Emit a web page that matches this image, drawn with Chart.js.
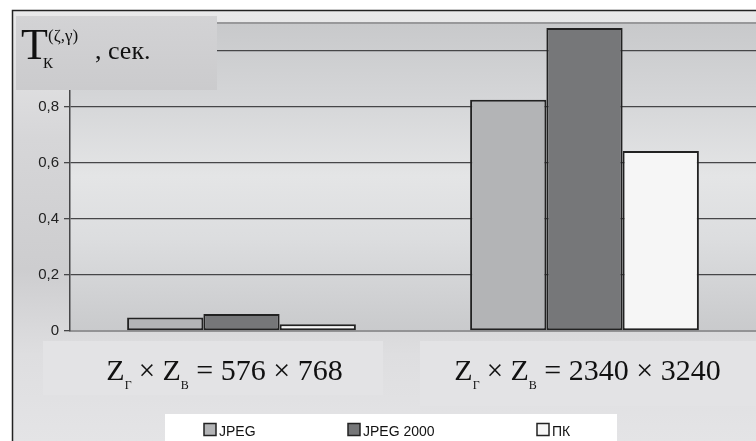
<!DOCTYPE html>
<html>
<head>
<meta charset="utf-8">
<script src="https://cdn.jsdelivr.net/npm/chart.js@4"></script>
<style>
  html, body { margin: 0; padding: 0; background: #fff; overflow: hidden; }
  #wrap { width: 756px; height: 441px; position: relative; }
</style>
</head>
<body>
<div id="wrap"><canvas id="timeChart" width="756" height="441"></canvas></div>
<script>
// data
const categories = ['576x768', '2340x3240'];
const categoryLabels = [['576', '768'], ['2340', '3240']];
const seriesNames = ['JPEG', 'JPEG 2000', 'ПК'];
const jpegValues = [0.048, 0.826];
const jpeg2000Values = [0.061, 1.082];
const pkValues = [0.024, 0.643];
const yTicks = [0, 0.2, 0.4, 0.6, 0.8, 1.0];

const barFills = ['#b3b4b6', '#767779', '#f6f6f6'];

// draws backgrounds, title box, x label boxes and legend
const decorPlugin = {
    id: 'decor',
    beforeDraw(chart) {
        const ctx = chart.ctx;
        const a = chart.chartArea;
        ctx.save();
        ctx.fillStyle = '#fff';
        ctx.fillRect(0, 0, 756, 441);
        // outer panel
        let g = ctx.createLinearGradient(0, 10, 0, 441);
        g.addColorStop(0, '#e9e9ea');
        g.addColorStop(0.3, '#d6d6d8');
        g.addColorStop(0.6, '#cdcdcf');
        g.addColorStop(0.8, '#dedee0');
        g.addColorStop(1, '#e4e4e6');
        ctx.fillStyle = g;
        ctx.fillRect(13, 11, 743, 430);
        ctx.strokeStyle = '#222';
        ctx.lineWidth = 1.5;
        ctx.beginPath();
        ctx.moveTo(12.5, 441);
        ctx.lineTo(12.5, 10.5);
        ctx.lineTo(756, 10.5);
        ctx.stroke();
        // plot area
        g = ctx.createLinearGradient(0, a.top, 0, a.bottom);
        g.addColorStop(0, '#c8c9cb');
        g.addColorStop(0.25, '#d5d6d8');
        g.addColorStop(0.5, '#e4e5e6');
        g.addColorStop(0.7, '#dcdddf');
        g.addColorStop(1, '#c9cacc');
        ctx.fillStyle = g;
        ctx.fillRect(a.left, a.top, a.right - a.left, a.bottom - a.top);
        ctx.restore();
    },
    afterDraw(chart) {
        const ctx = chart.ctx;
        const x = chart.scales.x;
        ctx.save();
        // title box
        let g = ctx.createLinearGradient(0, 15, 0, 90);
        g.addColorStop(0, '#d3d3d5');
        g.addColorStop(1, '#cbcbcd');
        ctx.fillStyle = g;
        ctx.fillRect(16, 16, 201, 74);
        ctx.fillStyle = '#111';
        ctx.textBaseline = 'alphabetic';
        ctx.font = '44px "Liberation Serif"';
        ctx.fillText('T', 21, 59);
        ctx.font = '17px "Liberation Serif"';
        ctx.fillText('(ζ,γ)', 48, 41);
        ctx.font = '15px "Liberation Serif"';
        ctx.fillText('К', 43, 68);
        ctx.font = '26px "Liberation Serif"';
        ctx.fillText(', сек.', 95, 59);

        // category label boxes
        const boxes = [[43, 341, 340, 54], [420, 341, 336, 65]];
        const shift = [-17, 3];
        categoryLabels.forEach((pair, i) => {
            const b = boxes[i];
            ctx.fillStyle = '#e3e3e5';
            ctx.fillRect(b[0], b[1], b[2], b[3]);
            const cx = x.getPixelForValue(i) + shift[i];
            const parts = [
                ['Z', 30, 0], ['Г', 12, 9], [' × ', 29, 0], ['Z', 30, 0], ['В', 12, 9],
                [' = ' + pair[0] + ' × ' + pair[1], 30, 0]
            ];
            let w = 0;
            parts.forEach(p => {
                ctx.font = p[1] + 'px "Liberation Serif"';
                w += ctx.measureText(p[0]).width;
            });
            let px = cx - w / 2;
            ctx.fillStyle = '#111';
            parts.forEach(p => {
                ctx.font = p[1] + 'px "Liberation Serif"';
                ctx.fillText(p[0], px, 380 + p[2]);
                px += ctx.measureText(p[0]).width;
            });
        });

        // legend
        ctx.fillStyle = '#fff';
        ctx.fillRect(165, 414, 452, 27);
        const legendX = [204, 348, 537];
        ctx.font = '14px "Liberation Sans"';
        chart.data.datasets.forEach((ds, i) => {
            ctx.fillStyle = ds.backgroundColor;
            ctx.fillRect(legendX[i], 423.5, 12, 12);
            ctx.strokeStyle = '#222';
            ctx.lineWidth = 1.5;
            ctx.strokeRect(legendX[i], 423.5, 12, 12);
            ctx.fillStyle = '#111';
            ctx.fillText(ds.label, legendX[i] + 15, 436);
        });
        ctx.restore();
    }
};

const ctx = document.getElementById('timeChart').getContext('2d');
new Chart(ctx, {
    type: 'bar',
    data: {
        labels: categories,
        datasets: [
            { label: seriesNames[0], data: jpegValues, backgroundColor: barFills[0] },
            { label: seriesNames[1], data: jpeg2000Values, backgroundColor: barFills[1] },
            { label: seriesNames[2], data: pkValues, backgroundColor: barFills[2] }
        ].map(ds => Object.assign(ds, {
            borderColor: '#222',
            borderWidth: 2,
            borderSkipped: false,
            barPercentage: 1,
            categoryPercentage: 0.667
        }))
    },
    options: {
        responsive: false,
        animation: false,
        devicePixelRatio: 1,
        layout: { padding: { top: 23, bottom: 110, left: 0, right: 0 } },
        plugins: {
            legend: { display: false },
            tooltip: { enabled: false }
        },
        scales: {
            x: {
                grid: { display: false, drawTicks: false },
                ticks: { display: false },
                border: { color: '#939395', width: 2 },
                afterFit(scale) { scale.height = 0; }
            },
            y: {
                min: 0,
                max: 1.1,
                afterBuildTicks(scale) {
                    scale.ticks = yTicks.concat([1.1]).map(v => ({ value: v }));
                },
                ticks: {
                    color: '#222',
                    font: { family: '"Liberation Sans"', size: 15 },
                    padding: 5,
                    callback: v => (v > 1.05 ? '' : String(Math.round(v * 10) / 10).replace('.', ','))
                },
                grid: {
                    color: c => (c.tick && c.tick.value > 1.05 ? '#98989a' : '#464648'),
                    lineWidth: c => (c.tick && c.tick.value > 1.05 ? 2 : 1.3),
                    tickLength: 6,
                    tickColor: '#464648'
                },
                border: { color: '#464648', width: 1.5 },
                afterFit(scale) { scale.width = 70; }
            }
        }
    },
    plugins: [decorPlugin]
});
</script>
</body>
</html>
